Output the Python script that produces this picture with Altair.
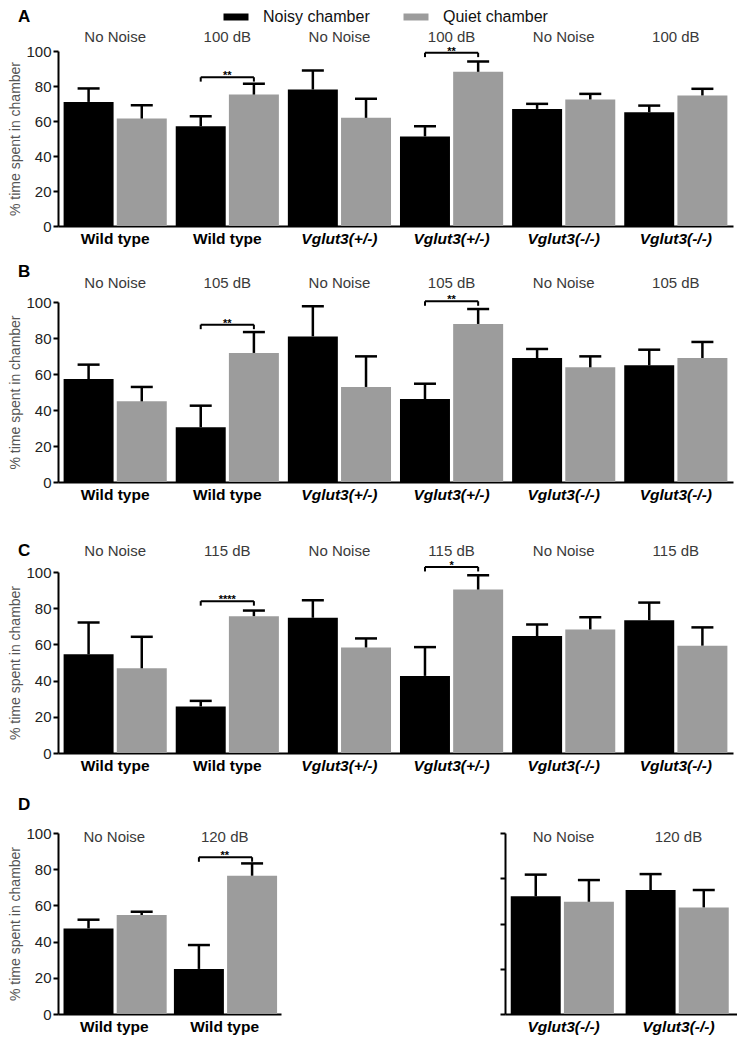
import altair as alt
import pandas as pd

FONT = "Liberation Sans"
chambers = ["Noisy chamber", "Quiet chamber"]
chamber_colors = ["#000000", "#9c9c9c"]

genotypes_6 = ["Wild type", "Wild type", "Vglut3(+/-)", "Vglut3(+/-)", "Vglut3(-/-)", "Vglut3(-/-)"]

# Panel A
cond_A = ["No Noise", "100 dB", "No Noise", "100 dB", "No Noise", "100 dB"]
noisy_A = [70.9, 57.0, 78.0, 51.2, 66.9, 65.0]
noisy_err_A = [7.7, 5.7, 10.9, 5.8, 2.9, 3.8]
quiet_A = [61.4, 75.1, 61.8, 88.1, 72.3, 74.6]
quiet_err_A = [7.6, 6.2, 10.9, 5.9, 3.2, 3.8]
sig_group_A = [1, 3]
sig_text_A = ["**", "**"]
sig_level_A = [85, 99]

# Panel B
cond_B = ["No Noise", "105 dB", "No Noise", "105 dB", "No Noise", "105 dB"]
noisy_B = [57.2, 30.4, 80.9, 46.1, 68.9, 64.8]
noisy_err_B = [8.0, 12.0, 16.7, 8.5, 5.0, 8.7]
quiet_B = [44.8, 71.7, 52.8, 87.8, 63.7, 68.9]
quiet_err_B = [8.0, 11.6, 17.0, 8.3, 6.1, 8.9]
sig_group_B = [1, 3]
sig_text_B = ["**", "**"]
sig_level_B = [87.4, 100.4]

# Panel C
cond_C = ["No Noise", "115 dB", "No Noise", "115 dB", "No Noise", "115 dB"]
noisy_C = [54.5, 25.7, 74.7, 42.6, 64.6, 73.4]
noisy_err_C = [17.6, 3.1, 9.7, 15.9, 6.4, 9.7]
quiet_C = [46.8, 75.6, 58.3, 90.3, 68.3, 59.3]
quiet_err_C = [17.4, 3.1, 5.0, 7.9, 6.7, 10.1]
sig_group_C = [1, 3]
sig_text_C = ["****", "*"]
sig_level_C = [83.9, 102.8]

# Panel D (left: wild type, right: Vglut3 -/-)
genotypes_DL = ["Wild type", "Wild type"]
cond_DL = ["No Noise", "120 dB"]
noisy_DL = [47.3, 24.9]
noisy_err_DL = [4.8, 13.2]
quiet_DL = [54.7, 76.4]
quiet_err_DL = [1.8, 6.8]
sig_group_DL = [1]
sig_text_DL = ["**"]
sig_level_DL = [86.6]

genotypes_DR = ["Vglut3(-/-)", "Vglut3(-/-)"]
cond_DR = ["No Noise", "120 dB"]
noisy_DR = [65.0, 68.5]
noisy_err_DR = [12.0, 8.8]
quiet_DR = [62.0, 58.9]
quiet_err_DR = [12.0, 9.6]

y_label_values = [0, 20, 40, 60, 80, 100]
y_tick_values_plain = [0, 25, 50, 75, 100]


def panel(letter, genotypes, conds, noisy, noisy_err, quiet, quiet_err,
          sig_group, sig_text, sig_level, width, height,
          letter_dy, cond_dy, y_labels=True, legend=False):
    keys = [f"{i}|{g}" for i, g in enumerate(genotypes)]
    rows = []
    for ch, vals, errs in ((chambers[0], noisy, noisy_err), (chambers[1], quiet, quiet_err)):
        for k, v, e in zip(keys, vals, errs):
            rows.append({"key": k, "chamber": ch, "value": v, "top": v + e})
    bars_df = pd.DataFrame(rows)
    cond_df = pd.DataFrame({"key": keys, "cond": conds})

    x = alt.X("key:N", sort=keys,
              scale=alt.Scale(domain=keys, paddingInner=0.08, paddingOuter=0.05),
              axis=alt.Axis(title=None, labelExpr="split(datum.value,'|')[1]", labelAngle=0,
                            ticks=False, domainColor="black", domainWidth=2,
                            labelFontSize=15.5, labelFontWeight="bold", labelColor="black",
                            labelPadding=5,
                            labelFontStyle={"condition": {"test": "indexof(datum.value,'Vglut')>=0",
                                                          "value": "italic"},
                                            "value": "normal"}))
    xo = alt.XOffset("chamber:N", sort=chambers,
                     scale=alt.Scale(domain=chambers, paddingInner=0.06, paddingOuter=0))
    if y_labels:
        yaxis = alt.Axis(values=y_label_values, title="% time spent in chamber",
                         titleFontSize=14, titleColor="#555", titleFontWeight="normal",
                         titlePadding=3, labelFontSize=15, labelColor="#222",
                         labelOverlap=False, labelFlush=False,
                         tickSize=5, tickWidth=2, tickColor="black",
                         domainWidth=2, domainColor="black", grid=False, labelPadding=2)
    else:
        yaxis = alt.Axis(values=y_tick_values_plain, title=None, labels=False,
                         tickSize=5, tickWidth=2, tickColor="black",
                         domainWidth=2, domainColor="black", grid=False)
    scale_y = alt.Scale(domain=[0, 100], nice=False)
    y = alt.Y("value:Q", scale=scale_y, axis=yaxis)

    if legend:
        leg = alt.Legend(orient="none", legendX=170, legendY=-42, direction="horizontal",
                         columns=2, title=None, symbolType="M-2.5,-0.7H2.5V0.7H-2.5Z",
                         symbolSize=100, symbolStrokeWidth=0, labelFontSize=16,
                         labelOffset=19, columnPadding=33, labelColor="#111",
                         padding=0, rowPadding=0)
    else:
        leg = None
    color = alt.Color("chamber:N", scale=alt.Scale(domain=chambers, range=chamber_colors),
                      legend=leg)

    bars = alt.Chart(bars_df).mark_bar().encode(x=x, xOffset=xo, y=y, color=color)
    err = alt.Chart(bars_df).mark_rule(color="black", strokeWidth=2.5).encode(
        x=x, xOffset=xo, y=alt.Y("value:Q", scale=scale_y, axis=yaxis), y2="top:Q")
    caps = alt.Chart(bars_df).mark_tick(color="black", thickness=2.5, size=22,
                                        orient="horizontal", opacity=1).encode(
        x=x, xOffset=xo, y=alt.Y("top:Q", scale=scale_y, axis=yaxis))
    conds_layer = alt.Chart(cond_df).mark_text(fontSize=15, color="#3a3a3a").encode(
        x=x, y=alt.value(cond_dy), text="cond:N")
    letter_layer = alt.Chart(pd.DataFrame({"t": [letter]})).mark_text(
        fontSize=17, fontWeight="bold", align="left", color="black").encode(
        x=alt.value(-40), y=alt.value(letter_dy), text="t:N")

    layers = [bars, err, caps, conds_layer]
    if sig_group:
        br_rows = []
        st_rows = []
        for bid, (g, t, lv) in enumerate(zip(sig_group, sig_text, sig_level)):
            for ch in chambers:
                br_rows.append({"key": keys[g], "chamber": ch, "level": lv,
                                "low": lv - 2.5, "bid": bid})
            st_rows.append({"key": keys[g], "label": t, "level": lv})
        br_df = pd.DataFrame(br_rows)
        st_df = pd.DataFrame(st_rows)
        line = alt.Chart(br_df).mark_line(color="black", strokeWidth=2).encode(
            x=x, xOffset=xo, y=alt.Y("level:Q", scale=scale_y, axis=yaxis), detail="bid:N")
        ends = alt.Chart(br_df).mark_rule(color="black", strokeWidth=2).encode(
            x=x, xOffset=xo, y=alt.Y("level:Q", scale=scale_y, axis=yaxis), y2="low:Q")
        stars = alt.Chart(st_df).mark_text(fontSize=11, fontWeight="bold", color="black",
                                           baseline="middle", dy=-1).encode(
            x=x, y=alt.Y("level:Q", scale=scale_y, axis=yaxis), text="label:N")
        layers += [line, ends, stars]
    if letter:
        layers.append(letter_layer)
    return alt.layer(*layers).properties(width=width, height=height)


A = panel("A", genotypes_6, cond_A, noisy_A, noisy_err_A, quiet_A, quiet_err_A,
          sig_group_A, sig_text_A, sig_level_A, 675, 175, -34, -14, legend=True)
B = panel("B", genotypes_6, cond_B, noisy_B, noisy_err_B, quiet_B, quiet_err_B,
          sig_group_B, sig_text_B, sig_level_B, 675, 180, -30, -19)
C = panel("C", genotypes_6, cond_C, noisy_C, noisy_err_C, quiet_C, quiet_err_C,
          sig_group_C, sig_text_C, sig_level_C, 675, 181, -21, -21)
DL = panel("D", genotypes_DL, cond_DL, noisy_DL, noisy_err_DL, quiet_DL, quiet_err_DL,
           sig_group_DL, sig_text_DL, sig_level_DL, 223, 181, -28, 4)
DR = panel("", genotypes_DR, cond_DR, noisy_DR, noisy_err_DR, quiet_DR, quiet_err_DR,
           [], [], [], 232, 181, -28, 4, y_labels=False)

Drow = alt.hconcat(DL, DR, spacing=218)
inner2 = alt.vconcat(C, Drow, spacing=22)
inner1 = alt.vconcat(B, inner2, spacing=39)
chart = alt.vconcat(A, inner1, spacing=16).resolve_legend(color="independent").properties(
    padding={"left": 0, "top": 0, "right": 0, "bottom": 0}
).configure(font=FONT).configure_view(stroke=None)

chart.save("out.html", embed_options={"renderer": "svg", "actions": False})
